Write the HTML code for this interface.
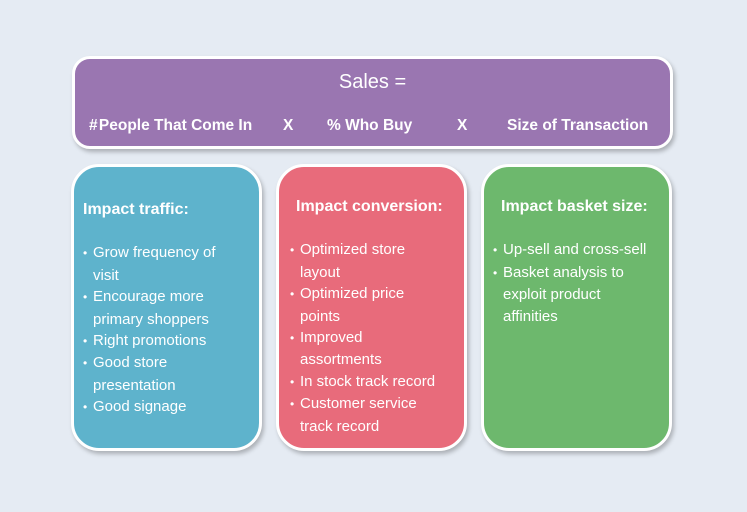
<!DOCTYPE html>
<html><head><style>
body{margin:0;width:747px;height:512px;background:#e5ebf3;position:relative;overflow:hidden;font-family:"Liberation Sans",sans-serif;color:#fff}
.b{position:absolute;box-sizing:border-box;border:3px solid #fff;box-shadow:2px 3px 4px rgba(0,0,0,0.25)}
.top{left:72px;top:56px;width:601px;height:93px;background:#9a76b1;border-radius:18px}
.t{position:absolute;top:58px;font-size:15.5px;font-weight:bold;white-space:nowrap}
.c{top:164px;width:191px;height:287px;border-radius:28px;padding:30px 0 0 9px;font-size:15px;line-height:21.4px}
.c h3{margin:0 0 22px 0;font-size:16px;font-weight:bold}
.c ul{margin:0;padding:0;list-style:none}
.c li{padding-left:10px;text-indent:-10px;white-space:nowrap}
.c li:before{content:"•";display:inline-block;width:10px;text-indent:0;font-size:12px}
</style></head><body>
<div class="b top">
<div style="position:absolute;left:0;right:0;top:12px;text-align:center;font-size:20px">Sales =</div>
<div class="t" style="left:14px">#&#8202;People That Come In</div>
<div class="t" style="left:208px">X</div>
<div class="t" style="left:252px">% Who Buy</div>
<div class="t" style="left:382px">X</div>
<div class="t" style="left:432px">Size of Transaction</div>
</div>
<div class="b c" style="left:71px;background:#5eb3cc;padding-top:32px">
<h3>Impact traffic:</h3>
<ul><li>Grow frequency of<br>visit</li><li>Encourage more<br>primary shoppers</li><li>Right promotions</li><li>Good store<br>presentation</li><li>Good signage</li></ul></div>
<div class="b c" style="left:276px;background:#e86b7b;padding-left:11px;padding-top:29px">
<h3 style="margin-left:6px">Impact conversion:</h3>
<ul><li>Optimized store<br>layout</li><li>Optimized price<br>points</li><li>Improved<br>assortments</li><li>In stock track record</li><li>Customer service<br>track record</li></ul></div>
<div class="b c" style="left:481px;background:#6db86d;padding-left:9px;padding-top:29px">
<h3 style="margin-left:8px">Impact basket size:</h3>
<ul><li>Up-sell and cross-sell</li><li>Basket analysis to<br>exploit product<br>affinities</li></ul></div>
</body></html>
